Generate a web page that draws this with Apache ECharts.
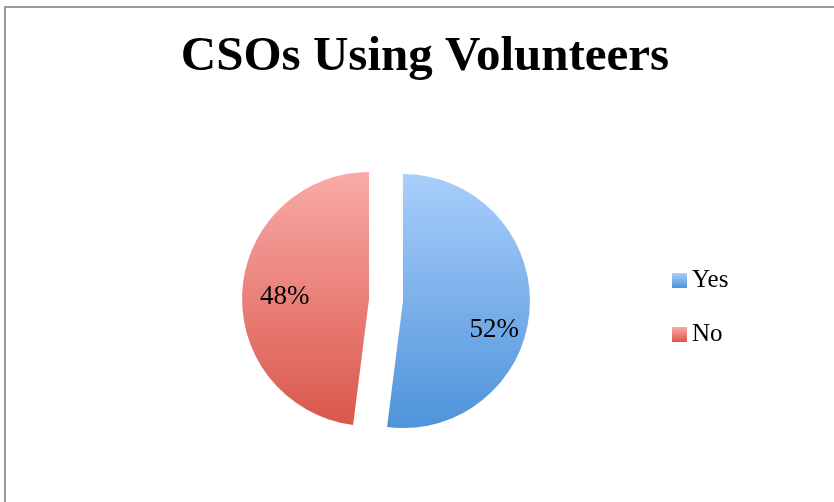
<!DOCTYPE html>
<html>
<head>
<meta charset="utf-8">
<script src="https://cdn.jsdelivr.net/npm/echarts@6/dist/echarts.min.js"></script>
<style>
  html, body { margin: 0; padding: 0; background: #fff; }
  #chart { width: 834px; height: 502px; }
</style>
</head>
<body>
<div id="chart"></div>
<script>
const categories = ['Yes', 'No'];
const values = [52, 48];

const serif = '"Liberation Serif", "DejaVu Serif", serif';

const grad = (top, bottom) => new echarts.graphic.LinearGradient(0, 0, 0, 1, [
  { offset: 0, color: top },
  { offset: 1, color: bottom }
]);
const fills = [grad('#a9cefb', '#4e93da'), grad('#f9aaa7', '#da574b')];
// Excel puts the labels a bit off the mid-radius point
const labelShift = [[25, 25], [-18, 2]];

const chart = echarts.init(document.getElementById('chart'));
chart.setOption({
  animation: false,
  graphic: [
    {
      type: 'rect',
      shape: { x: 5, y: 7, width: 900, height: 600 },
      style: { fill: 'none', stroke: '#9a9a9a', lineWidth: 2 },
      silent: true
    },
    {
      type: 'text',
      x: 425,
      y: 57,
      style: {
        text: 'CSOs Using Volunteers',
        font: 'bold 49px ' + serif,
        fill: '#000',
        textAlign: 'center',
        textVerticalAlign: 'middle'
      }
    }
  ],
  legend: {
    orient: 'vertical',
    left: 667,
    top: 263,
    icon: 'rect',
    itemWidth: 15,
    itemHeight: 15,
    itemGap: 29,
    data: categories,
    textStyle: { fontFamily: serif, fontSize: 25, color: '#000', lineHeight: 24 }
  },
  series: [{
    type: 'pie',
    center: [386, 300],
    radius: 127,
    startAngle: 90,
    clockwise: true,
    selectedMode: 'multiple',
    selectedOffset: 17,
    label: {
      position: 'inside',
      fontFamily: serif,
      fontSize: 27,
      color: '#000',
      formatter: p => Math.round(p.percent) + '%'
    },
    labelLayout: p => ({ dx: labelShift[p.dataIndex][0], dy: labelShift[p.dataIndex][1] }),
    labelLine: { show: false },
    emphasis: { disabled: true },
    data: categories.map((name, i) => ({
      name,
      value: values[i],
      selected: true,
      itemStyle: { color: fills[i] },
      select: { itemStyle: { color: fills[i] } }
    }))
  }]
});
</script>
</body>
</html>
